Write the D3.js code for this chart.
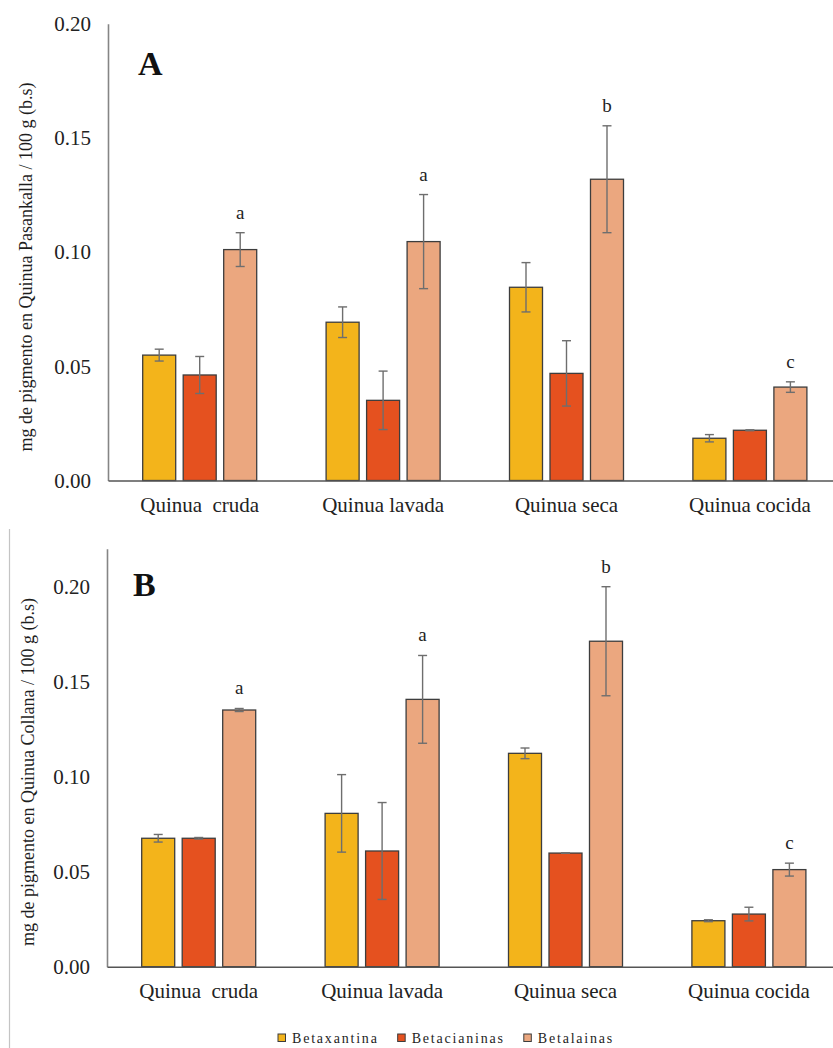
<!DOCTYPE html>
<html>
<head>
<meta charset="utf-8">
<script src="https://cdn.jsdelivr.net/npm/d3@7"></script>
<style>
  html, body { margin: 0; padding: 0; background: #fff; }
  svg { display: block; }
  text { font-family: "Liberation Serif", "Times New Roman", serif; fill: #1e1e1e; }
</style>
</head>
<body>
<svg id="chart" width="833" height="1048"></svg>
<script>
// ---------- DATA ----------
const categories = ["Quinua  cruda", "Quinua lavada", "Quinua seca", "Quinua cocida"];
const seriesNames = ["Betaxantina", "Betacianinas", "Betalainas"];
const letters = ["a", "a", "b", "c"];
const tickValues = [0, 0.05, 0.10, 0.15, 0.20];
const tickLabels = ["0.00", "0.05", "0.10", "0.15", "0.20"];

// Panel A: Quinua Pasankalla
const pasankallaBetaxantina = [0.0549, 0.0693, 0.0846, 0.0185];
const pasankallaBetaxantinaErr = [0.0026, 0.0067, 0.0108, 0.0016];
const pasankallaBetacianinas = [0.0462, 0.0351, 0.0469, 0.0220];
const pasankallaBetacianinasErr = [0.0081, 0.0128, 0.0143, 0.0002];
const pasankallaBetalainas = [0.1011, 0.1046, 0.1319, 0.0409];
const pasankallaBetalainasErr = [0.0074, 0.0206, 0.0234, 0.0023];

// Panel B: Quinua Collana
const collanaBetaxantina = [0.0676, 0.0807, 0.1123, 0.0242];
const collanaBetaxantinaErr = [0.0020, 0.0204, 0.0028, 0.0005];
const collanaBetacianinas = [0.0676, 0.0609, 0.0598, 0.0277];
const collanaBetacianinasErr = [0.0004, 0.0255, 0.0001, 0.0036];
const collanaBetalainas = [0.1351, 0.1407, 0.1713, 0.0511];
const collanaBetalainasErr = [0.0008, 0.0231, 0.0287, 0.0034];

// ---------- STYLE / LAYOUT ----------
const colors = ["#F3B41B", "#E5511F", "#EBA77F"];
const svg = d3.select("#chart");

function buildRows(vals, errs) {
  return categories.map((c, i) => ({
    cat: c,
    bars: seriesNames.map((s, j) => ({ series: s, value: vals[j][i], err: errs[j][i] })),
    letter: letters[i]
  }));
}

const panels = [
  {
    rows: buildRows(
      [pasankallaBetaxantina, pasankallaBetacianinas, pasankallaBetalainas],
      [pasankallaBetaxantinaErr, pasankallaBetacianinasErr, pasankallaBetalainasErr]),
    left: 108, bottom: 480.5, yMax: 0.20, pxPerUnit: 2284,
    tag: "A", tagX: 138, tagY: 75,
    yTitle: "mg de pigmento en Quinua Pasankalla / 100 g (b.s)", yTitleX: 27, yTitleY: 267
  },
  {
    rows: buildRows(
      [collanaBetaxantina, collanaBetacianinas, collanaBetalainas],
      [collanaBetaxantinaErr, collanaBetacianinasErr, collanaBetalainasErr]),
    left: 107, bottom: 966.7, yMax: 0.22, pxPerUnit: 1900,
    tag: "B", tagX: 133, tagY: 596,
    yTitle: "mg de pigmento en Quinua Collana / 100 g (b.s)", yTitleX: 29, yTitleY: 772
  }
];

// left frame line of lower panel
svg.append("line")
  .attr("x1", 9.5).attr("x2", 9.5).attr("y1", 529).attr("y2", 1048)
  .attr("stroke", "#c4c4c4").attr("stroke-width", 1.2);

panels.forEach(p => {
  const g = svg.append("g");
  const y = d3.scaleLinear().domain([0, p.yMax]).range([p.bottom, p.bottom - p.yMax * p.pxPerUnit]);
  const x = d3.scaleBand().domain(categories).range([p.left, p.left + 4 * 183.4]).paddingInner(0).paddingOuter(0);
  const half = 57;
  const xs = d3.scaleBand().domain(seriesNames).range([-half, half]).paddingInner(0.185).paddingOuter(0);

  // y axis
  const yAxis = d3.axisLeft(y).tickValues(tickValues)
    .tickFormat((d, i) => tickLabels[i]).tickSizeInner(0).tickSizeOuter(0).tickPadding(17);
  const ya = g.append("g").attr("transform", `translate(${p.left},0)`).call(yAxis);
  ya.select(".domain").attr("stroke", "#858585").attr("stroke-width", 1.6);
  ya.selectAll("text").attr("font-size", 21).attr("font-family", "Liberation Serif").style("fill", "#222");

  // bars
  const groups = g.selectAll(".grp").data(p.rows).enter().append("g")
    .attr("transform", d => `translate(${x(d.cat) + x.bandwidth() / 2},0)`);

  groups.selectAll("rect").data(d => d.bars).enter().append("rect")
    .attr("x", d => xs(d.series))
    .attr("width", xs.bandwidth())
    .attr("y", d => y(d.value))
    .attr("height", d => y(0) - y(d.value))
    .attr("fill", (d, i) => colors[i])
    .attr("stroke", "#3d3d3d").attr("stroke-width", 1.3);

  // error bars
  const eb = groups.selectAll(".eb").data(d => d.bars).enter().append("g")
    .attr("stroke", "#6e6e6e").attr("stroke-width", 1.4);
  eb.append("line")
    .attr("x1", d => xs(d.series) + xs.bandwidth() / 2).attr("x2", d => xs(d.series) + xs.bandwidth() / 2)
    .attr("y1", d => y(d.value + d.err)).attr("y2", d => y(d.value - d.err));
  eb.append("line")
    .attr("x1", d => xs(d.series) + xs.bandwidth() / 2 - 4.5).attr("x2", d => xs(d.series) + xs.bandwidth() / 2 + 4.5)
    .attr("y1", d => y(d.value + d.err)).attr("y2", d => y(d.value + d.err));
  eb.append("line")
    .attr("x1", d => xs(d.series) + xs.bandwidth() / 2 - 4.5).attr("x2", d => xs(d.series) + xs.bandwidth() / 2 + 4.5)
    .attr("y1", d => y(d.value - d.err)).attr("y2", d => y(d.value - d.err));

  // significance letters above last series
  groups.append("text")
    .attr("x", xs(seriesNames[2]) + xs.bandwidth() / 2)
    .attr("y", d => y(d.bars[2].value + d.bars[2].err) - 14)
    .attr("text-anchor", "middle").attr("font-size", 19)
    .text(d => d.letter);

  // x axis
  const xAxis = d3.axisBottom(x).tickSizeInner(0).tickSizeOuter(0).tickPadding(0);
  const xa = g.append("g").attr("transform", `translate(0,${p.bottom})`).call(xAxis);
  xa.select(".domain").attr("stroke", "#555").attr("stroke-width", 1.5);
  xa.selectAll("text").attr("font-size", 21).attr("font-family", "Liberation Serif")
    .attr("dy", null).attr("y", 31.5).style("fill", "#222").style("white-space", "pre");

  // panel tag
  g.append("text").attr("x", p.tagX).attr("y", p.tagY)
    .attr("font-size", 34).attr("font-weight", "bold").style("fill", "#111").text(p.tag);

  // y title
  g.append("text")
    .attr("transform", `translate(${p.yTitleX},${p.yTitleY}) rotate(-90)`)
    .attr("text-anchor", "middle").attr("dy", "0.25em")
    .attr("font-size", 18).text(p.yTitle);
});

// legend
const legend = svg.append("g");
let lx = 278;
seriesNames.forEach((s, i) => {
  legend.append("rect").attr("x", lx).attr("y", 1034).attr("width", 7.5).attr("height", 7.5)
    .attr("fill", colors[i]).attr("stroke", "#3d3d3d").attr("stroke-width", 1);
  const t = legend.append("text").attr("x", lx + 14).attr("y", 1042.5)
    .attr("font-size", 14).attr("letter-spacing", 1.8).text(s);
  lx = lx + 14 + t.node().getComputedTextLength() + 19;
});
</script>
</body>
</html>
